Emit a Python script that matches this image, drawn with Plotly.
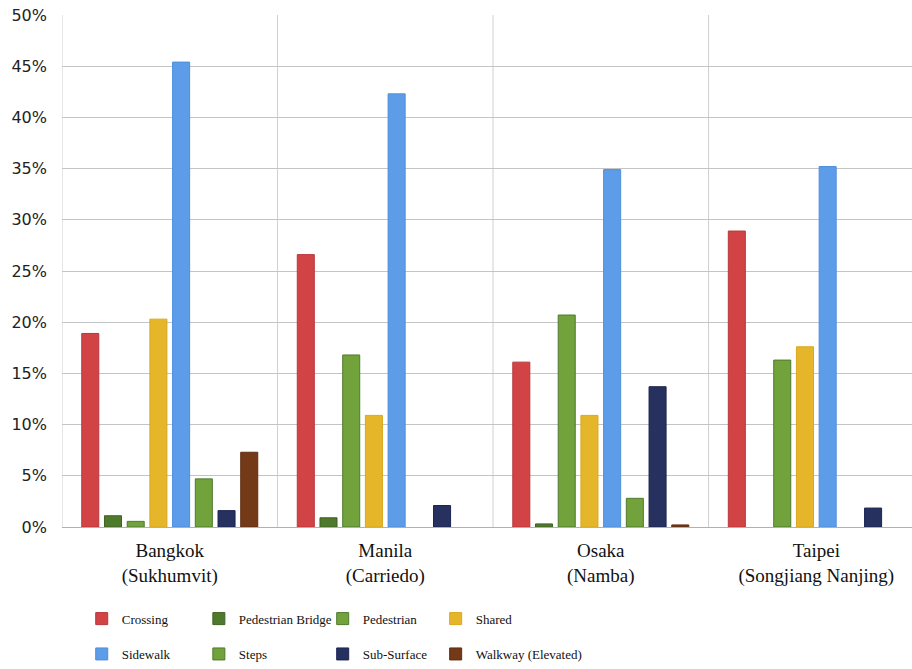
import plotly.graph_objects as go

# Share of network length by path type (%), per study area
areas = ["Bangkok<br>(Sukhumvit)", "Manila<br>(Carriedo)", "Osaka<br>(Namba)", "Taipei<br>(Songjiang Nanjing)"]

crossing = [18.9, 26.6, 16.1, 28.9]
pedestrian_bridge = [1.1, 0.9, 0.3, 0.0]
pedestrian = [0.55, 16.8, 20.7, 16.3]
shared = [20.3, 10.9, 10.9, 17.6]
sidewalk = [45.4, 42.3, 34.9, 35.2]
steps = [4.7, 0.0, 2.8, 0.0]
sub_surface = [1.6, 2.1, 13.7, 1.85]
walkway_elevated = [7.3, 0.0, 0.2, 0.0]

series = [
    ("Crossing", crossing, "#D24346", "#B8383B"),
    ("Pedestrian Bridge", pedestrian_bridge, "#4F7A2C", "#3E6222"),
    ("Pedestrian", pedestrian, "#72A23C", "#4F7A2C"),
    ("Shared", shared, "#E6B62A", "#D9A820"),
    ("Sidewalk", sidewalk, "#5C9CE8", "#4E8EDC"),
    ("Steps", steps, "#72A23C", "#4F7A2C"),
    ("Sub-Surface", sub_surface, "#263160", "#1C2550"),
    ("Walkway (Elevated)", walkway_elevated, "#743A18", "#5E2E12"),
]

# legend grid: 4 columns x 2 rows, one single-entry legend per series
legend_cols = [0.0232, 0.161, 0.3067, 0.4396]
legend_rows = [-0.179, -0.249]

fig = go.Figure()
legend_layout = {}
for i, (name, vals, fill, edge) in enumerate(series):
    key = "legend" if i == 0 else f"legend{i + 1}"
    # no outline on empty categories so they stay invisible
    widths = [1 if v > 0 else 0 for v in vals]
    fig.add_trace(go.Bar(
        x=list(range(len(areas))), y=vals, name=name,
        marker=dict(color=fill, line=dict(color=edge, width=widths)),
        legend=key,
    ))
    legend_layout[key] = dict(
        x=legend_cols[i % 4], y=legend_rows[i // 4],
        xanchor="left", yanchor="middle", orientation="h",
        font=dict(family="Liberation Serif", size=13, color="#111111"),
        bgcolor="rgba(0,0,0,0)", itemclick=False,
    )

# vertical separators between the area groups
for xv in [-0.5, 0.5, 1.5, 2.5]:
    fig.add_shape(type="line", xref="x", yref="paper", x0=xv, x1=xv, y0=0, y1=1,
                  line=dict(color="#D0D0D0", width=1), layer="below")

fig.update_layout(
    width=912, height=669,
    margin=dict(l=62, r=0, t=15, b=140),
    paper_bgcolor="white", plot_bgcolor="white",
    font=dict(family="Liberation Serif", size=13, color="#111111"),
    barmode="group", bargap=0.157, bargroupgap=0.25,
    showlegend=True,
    xaxis=dict(
        tickmode="array", tickvals=list(range(len(areas))), ticktext=areas,
        range=[-0.5, 3.444], showgrid=False, zeroline=False, showline=False,
        ticks="", ticklabelstandoff=10,
        tickfont=dict(family="Liberation Serif", size=19, color="#111111"),
    ),
    yaxis=dict(
        range=[0, 50], dtick=5, ticksuffix="%", showgrid=True,
        gridcolor="#C4C4C4", gridwidth=1, zeroline=True, zerolinecolor="#B0B0B0",
        zerolinewidth=1, showline=False, ticks="",
        tickfont=dict(family="DejaVu Sans", size=16, color="#222222"),
        ticklabelstandoff=14,
    ),
    **legend_layout,
)

fig.write_html("out.html")
